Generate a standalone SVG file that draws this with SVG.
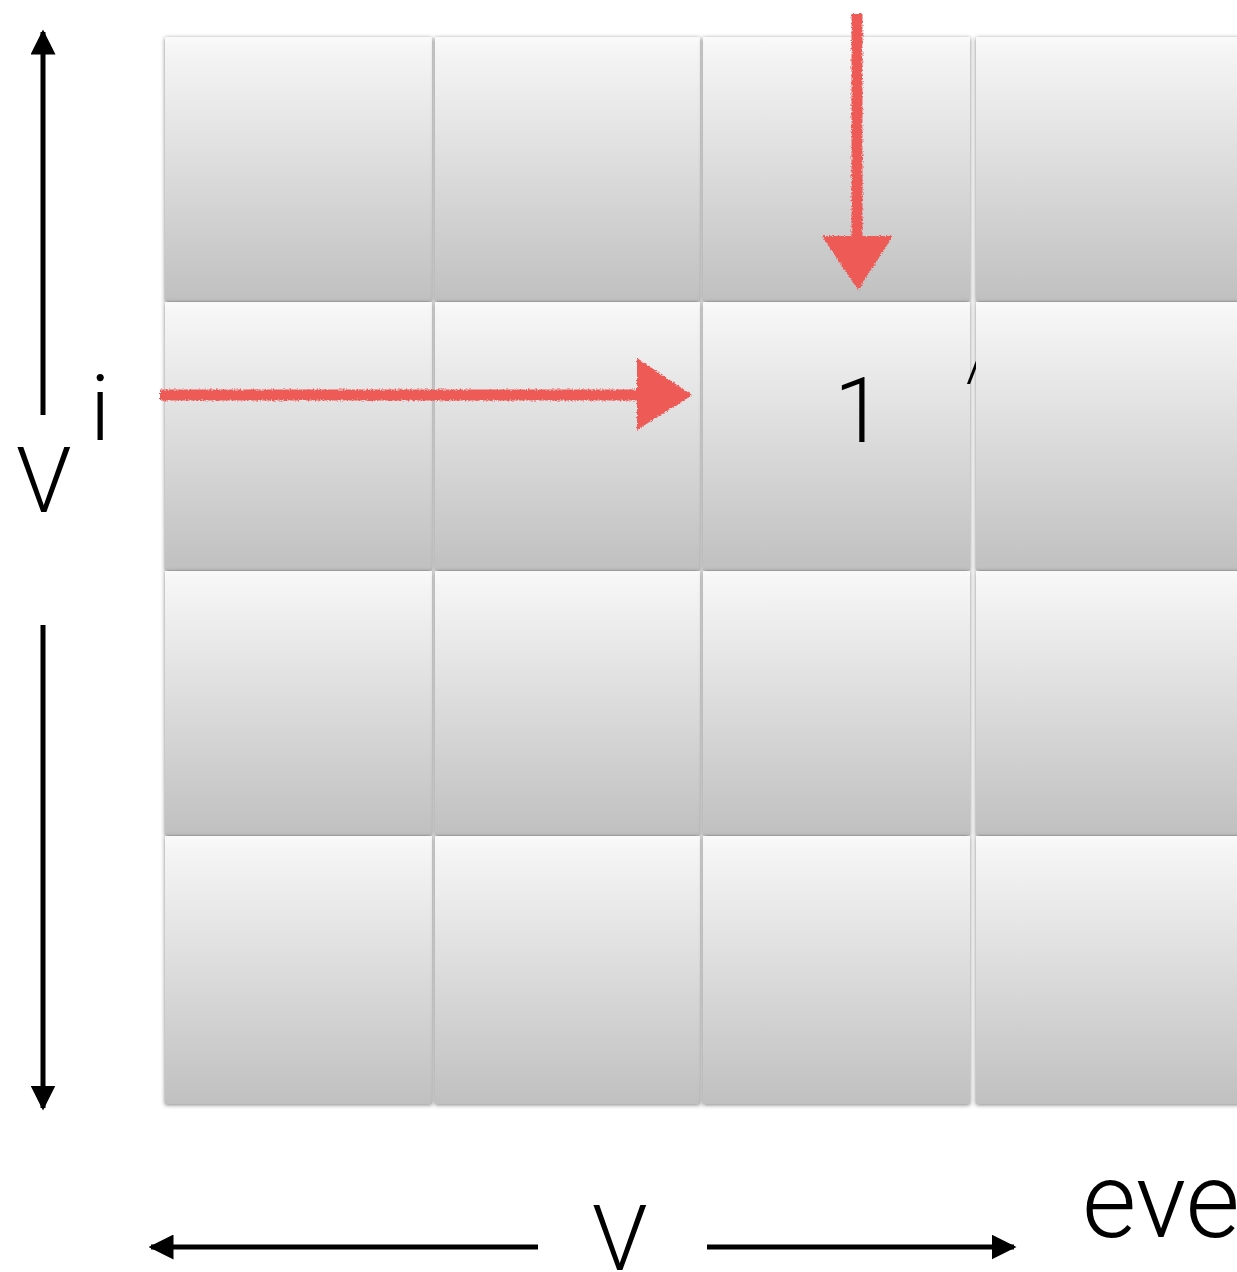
<svg xmlns="http://www.w3.org/2000/svg" width="1237" height="1272" viewBox="0 0 1237 1272">
<style>
.cell{fill:url(#g);filter:url(#sh)}
.lbl{font-family:Roboto,"Liberation Sans",sans-serif;font-weight:300;fill:#000}
.blk{stroke:#000;stroke-width:5;fill:none}
.red{stroke:#ee5a56;stroke-width:11;fill:none;filter:url(#rough)}
.redh{fill:#ee5a56;filter:url(#rough)}
</style>
<defs>
<linearGradient id="g" x1="0" y1="0" x2="0" y2="1">
<stop offset="0" stop-color="#fafafa"/>
<stop offset="0.05" stop-color="#f5f5f5"/>
<stop offset="1" stop-color="#c0c0c0"/>
</linearGradient>
<filter id="sh" x="-5%" y="-5%" width="110%" height="110%">
<feDropShadow dx="0" dy="1" stdDeviation="2" flood-color="#000" flood-opacity="0.5"/>
</filter>
<filter id="rough" filterUnits="userSpaceOnUse" x="0" y="0" width="1237" height="1272">
<feTurbulence type="fractalNoise" baseFrequency="0.6" numOctaves="2" seed="3" result="n"/>
<feDisplacementMap in="SourceGraphic" in2="n" scale="4" xChannelSelector="R" yChannelSelector="G"/>
</filter>
<marker id="ah" viewBox="0 0 10 10" refX="9" refY="5" markerWidth="5" markerHeight="5" orient="auto" markerUnits="strokeWidth">
<path d="M0,0 L10,5 L0,10 z" fill="#000"/>
</marker>
</defs>
<g id="grid">
<g id="c11"><rect class="cell" x="165" y="37" width="267" height="264"/></g>
<g id="c12"><rect class="cell" x="435" y="37" width="265" height="264"/></g>
<g id="c13"><rect class="cell" x="703" y="37" width="267" height="264"/></g>
<g id="c14"><rect class="cell" x="976" y="37" width="270" height="264"/></g>
<g id="c21"><rect class="cell" x="165" y="302" width="267" height="268"/></g>
<g id="c22"><rect class="cell" x="435" y="302" width="265" height="268"/></g>
<g id="c23"><rect class="cell" x="703" y="302" width="267" height="268"/>
<text class="lbl" x="834" y="442" font-size="90">1</text>
<text class="lbl" x="966" y="380" font-size="60" font-weight="700">/</text></g>
<g id="c24"><rect class="cell" x="976" y="302" width="270" height="268"/></g>
<g id="c31"><rect class="cell" x="165" y="571" width="267" height="264"/></g>
<g id="c32"><rect class="cell" x="435" y="571" width="265" height="264"/></g>
<g id="c33"><rect class="cell" x="703" y="571" width="267" height="264"/></g>
<g id="c34"><rect class="cell" x="976" y="571" width="270" height="264"/></g>
<g id="c41"><rect class="cell" x="165" y="836" width="267" height="268"/></g>
<g id="c42"><rect class="cell" x="435" y="836" width="265" height="268"/></g>
<g id="c43"><rect class="cell" x="703" y="836" width="267" height="268"/></g>
<g id="c44"><rect class="cell" x="976" y="836" width="270" height="268"/></g>
</g>
<g id="labels">
<text class="lbl" x="16" y="512" font-size="90">V</text>
<text class="lbl" x="90" y="440" font-size="90">i</text>
<text class="lbl" x="592" y="1270" font-size="90">V</text>
<text class="lbl" x="1082" y="1237" font-size="105">eve</text>
</g>
<g id="connectors">
<line class="blk" x1="43" y1="415" x2="43" y2="32" marker-end="url(#ah)"/>
<line class="blk" x1="43" y1="625" x2="43" y2="1108" marker-end="url(#ah)"/>
<line class="blk" x1="538" y1="1247" x2="151" y2="1247" marker-end="url(#ah)"/>
<line class="blk" x1="707" y1="1247" x2="1014" y2="1247" marker-end="url(#ah)"/>
<line class="red" x1="857" y1="14" x2="857" y2="245"/>
<path class="redh" d="M822,236 L893,236 L858,290 z"/>
<line class="red" x1="160" y1="395" x2="645" y2="395"/>
<path class="redh" d="M637,358 L692,395 L637,430 z"/>
</g>
</svg>
